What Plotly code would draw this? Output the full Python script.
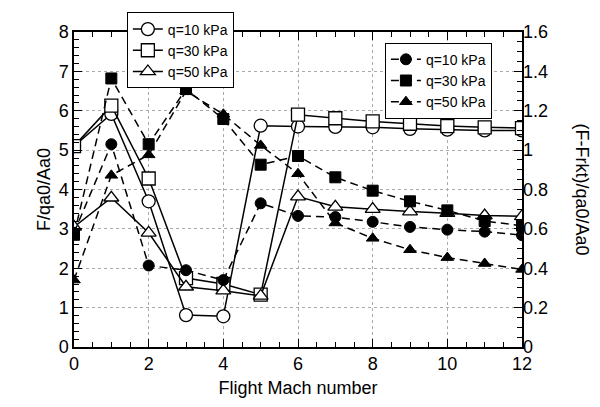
import plotly.graph_objects as go

mach = [0, 1, 2, 3, 4, 5, 6, 7, 8, 9, 10, 11, 12]

# Left axis: F/qa0/Aa0 (open markers, solid lines)
f_q10 = [5.1, 5.92, 3.70, 0.81, 0.78, 5.62, 5.60, 5.59, 5.58, 5.54, 5.52, 5.50, 5.50]
f_q30 = [5.1, 6.13, 4.28, 1.75, 1.60, 1.33, 5.90, 5.81, 5.73, 5.67, 5.61, 5.58, 5.56]
f_q50 = [3.05, 3.79, 2.90, 1.53, 1.43, 1.30, 3.82, 3.56, 3.50, 3.44, 3.40, 3.34, 3.32]

# Right axis: (F-Frkt)/qa0/Aa0 (filled markers, dashed lines)
g_q10 = [0.58, 1.03, 0.414, 0.39, 0.34, 0.73, 0.666, 0.66, 0.636, 0.61, 0.596, 0.586, 0.568]
g_q30 = [0.57, 1.364, 1.03, 1.31, 1.158, 0.926, 0.97, 0.862, 0.794, 0.74, 0.694, 0.64, 0.616]
g_q50 = [0.34, 0.872, 0.976, 1.30, 1.182, 1.024, 0.88, 0.63, 0.552, 0.494, 0.454, 0.424, 0.394]

labels = ["q=10 kPa", "q=30 kPa", "q=50 kPa"]

FONT = "Liberation Sans, Arial, Helvetica, sans-serif"
fig = go.Figure()

fill_syms = ["circle", "square", "triangle-up"]

for vals, lab, sym in zip([f_q10, f_q30, f_q50], labels, fill_syms):
    fig.add_trace(go.Scatter(
        x=mach, y=vals, name=lab, mode="lines+markers",
        line=dict(color="black", width=1.5),
        marker=dict(symbol=sym, size=13, color="white", line=dict(color="black", width=1.3)),
        legend="legend", yaxis="y"))

for vals, lab, sym in zip([g_q10, g_q30, g_q50], labels, fill_syms):
    fig.add_trace(go.Scatter(
        x=mach, y=vals, name=lab, mode="lines+markers",
        line=dict(color="black", width=1.5, dash="8px,5px"),
        marker=dict(symbol=sym, size=11, color="black", line=dict(color="black", width=1)),
        legend="legend2", yaxis="y2"))

fig.update_layout(
    width=600, height=407,
    margin=dict(l=74, r=78, t=22, b=60),
    paper_bgcolor="white", plot_bgcolor="white",
    font=dict(family=FONT, size=18, color="black"),
    xaxis=dict(
        range=[0, 12], dtick=2, tick0=0,
        ticks="inside", ticklen=8, tickwidth=1.2, tickcolor="black",
        showline=True, linecolor="black", linewidth=1.5, mirror="ticks",
        showgrid=True, gridcolor="#aaaaaa", griddash="dot", gridwidth=1,
        zeroline=False,
        minor=dict(dtick=0.5, ticks="inside", ticklen=5, tickcolor="black", showgrid=False),
        title=dict(text="Flight Mach number", font=dict(size=18), standoff=8),
        tickfont=dict(size=18),
    ),
    yaxis=dict(
        range=[0, 8], dtick=1, tick0=0,
        ticks="inside", ticklen=8, tickwidth=1.2, tickcolor="black",
        showline=True, linecolor="black", linewidth=1.5, mirror=True,
        showgrid=True, gridcolor="#aaaaaa", griddash="dot", gridwidth=1,
        zeroline=False,
        minor=dict(dtick=0.2, ticks="inside", ticklen=5, tickcolor="black", showgrid=False),
        title=dict(text="F/qa0/Aa0", font=dict(size=18), standoff=3),
        tickfont=dict(size=18),
    ),
    yaxis2=dict(
        range=[0, 1.6], overlaying="y", side="right",
        tickvals=[0, 0.2, 0.4, 0.6, 0.8, 1.0, 1.2, 1.4, 1.6],
        ticktext=["0", "0.2", "0.4", "0.6", "0.8", "1", "1.2", "1.4", "1.6"],
        ticks="inside", ticklen=8, tickwidth=1.2, tickcolor="black",
        showline=False, showgrid=False, zeroline=False,
        minor=dict(tickvals=[i * 0.05 for i in range(33)], ticks="inside", ticklen=5, tickcolor="black", showgrid=False),
        tickfont=dict(size=18),
    ),
    legend=dict(
        x=0.118, y=1.062, xanchor="left", yanchor="top",
        bgcolor="white", bordercolor="black", borderwidth=1,
        font=dict(size=14), tracegroupgap=0, itemwidth=30,
    ),
    legend2=dict(
        x=0.694, y=0.966, xanchor="left", yanchor="top",
        bgcolor="white", bordercolor="black", borderwidth=1,
        font=dict(size=14), tracegroupgap=0, itemwidth=30,
    ),
    annotations=[dict(
        text="(F-Frkt)/qa0/Aa0", textangle=90, xref="paper", yref="paper",
        x=1.136, y=0.5, xanchor="center", yanchor="middle", showarrow=False,
        font=dict(size=18, family=FONT),
    )],
)

fig.write_html("out.html")
